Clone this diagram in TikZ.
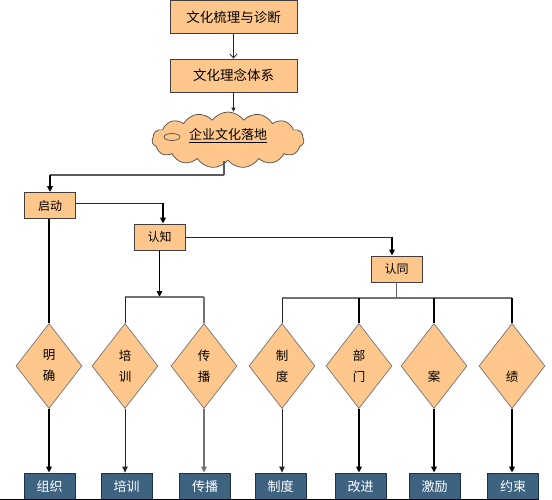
\documentclass[tikz,border=0pt]{standalone}
\usepackage{fontspec}
\newfontfamily\cjk{Noto Sans CJK SC}
\usetikzlibrary{shapes.geometric,shapes.symbols,arrows.meta,calc}
\definecolor{peach}{HTML}{FFC78C}
\definecolor{navy}{HTML}{3E6381}
\definecolor{navyedge}{HTML}{1E3246}
\begin{document}
\begin{tikzpicture}[x=1pt,y=-1pt,
  font=\cjk\fontsize{12}{14}\selectfont,
  pbox/.style={draw=black!75, fill=peach, line width=0.8pt, inner sep=0pt, minimum width=51pt, minimum height=26pt},
  topbox/.style={pbox, minimum width=127pt, minimum height=33pt, font=\cjk\fontsize{13.5}{16}\selectfont},
  dia/.style={diamond, draw=black!55, fill=peach, line width=0.7pt, inner sep=0pt, minimum width=66pt, minimum height=85pt, align=center, font=\cjk\fontsize{12.5}{21}\selectfont},
  nbox/.style={draw=navyedge, fill=navy, text=white, line width=0.8pt, inner sep=0pt, minimum width=51pt, minimum height=27pt, font=\cjk\fontsize{13}{15}\selectfont},
  tip/.style={-{Triangle[length=6pt,width=5.5pt]}},
  thk/.style={line width=1.8pt, draw=black},
  thn/.style={line width=0.8pt, draw=black!85},
  gry/.style={line width=1.4pt, draw=black!55},
]
\useasboundingbox (0,0) rectangle (552,500);

% top
\node[topbox] (b1) at (233.5,17) {文化梳理与诊断};
\node[topbox] (b2) at (233.5,75.5) {文化理念体系};
\node[cloud, cloud ignores aspect, cloud puffs=15, cloud puff arc=110, draw=black!70, fill=peach, line width=0.7pt, minimum width=152pt, minimum height=56pt, inner sep=0pt] (cl) at (228,140) {};
\node[inner sep=0pt, font=\cjk\fontsize{13}{15}\selectfont] (clt) at (228,136) {\underline{企业文化落地}};
\draw[black!70, line width=0.7pt] (172,137) ellipse (8pt and 3.5pt);

\draw[thn, -{Straight Barb[length=4pt,width=7pt]}] (b1.south) -- (b2.north);
\draw[thn, -{Triangle[length=4pt,width=4pt]}] (b2.south) -- (b2.south |- cl.north);

% level nodes
\node[pbox] (qd) at (50,205.5) {启动};
\node[pbox] (rz) at (159.5,237) {认知};
\node[pbox] (rt) at (396.5,269) {认同};

\coordinate (clo) at ($(cl.south)+(-4,0)$);
\draw[line width=1.2pt, draw=black!65] (clo) -- (clo |- 0,175) coordinate (cq);
\draw[line width=1.2pt, draw=black!65] (cq) -- (qd.north |- cq);
\draw[thk, tip] (qd.north |- cq) -- (qd.north);

\coordinate (q1) at (163,203);
\draw[thn] (qd.east |- q1) -- (q1);
\draw[thk, tip] (q1) -- (q1 |- rz.north);
\coordinate (r1) at (392,237);
\draw[thn] (rz.east) -- (r1);
\draw[thk, tip] (r1) -- (r1 |- rt.north);

% diamonds
\foreach \n/\x/\t in {d1/49/明\\确, d2/125/培\\训, d3/204/传\\播, d4/282/制\\度, d5/359/部\\门, d6/434/\phantom{案}\\案, d7/512/\phantom{绩}\\绩}{
  \node[dia] (\n) at (\x,366) {\t};
}

% bottom boxes
\node[nbox] (e1) at (49.5,486.5) {组织};
\node[nbox] (e2) at (126.5,486.5) {培训};
\node[nbox] (e3) at (205,486.5) {传播};
\node[nbox] (e4) at (280.5,486.5) {制度};
\node[nbox] (e5) at (360.5,486.5) {改进};
\node[nbox] (e6) at (434.5,486.5) {激励};
\node[nbox] (e7) at (513,486.5) {约束};

% bars
\coordinate (lb) at (0,297);
\draw[thk, tip] (rz.south) -- (rz.south |- lb);
\draw[gry] (d2.north |- lb) -- (d3.north |- lb);
\draw[thn] (d2.north |- lb) -- (d2.north);
\draw[gry] (d3.north |- lb) -- (d3.north);
\draw[thk] (qd.south -| d1.north) -- (d1.north);

\coordinate (rb) at (0,298);
\draw[line width=0.8pt, draw=black!60] (rt.south) -- (rt.south |- rb);
\draw[gry] (d4.north |- rb) -- (d7.north |- rb);
\draw[thn] (d4.north |- rb) -- (d4.north);
\draw[thk] (d5.north |- rb) -- (d5.north);
\draw[thk] (d6.north |- rb) -- (d6.north);
\draw[thk] (d7.north |- rb) -- (d7.north);

% diamond to bottom
\draw[thk, tip] (d1.south) -- (d1.south |- e1.north);
\draw[thn, tip] (d2.south) -- (d2.south |- e2.north);
\draw[gry, tip] (d3.south) -- (d3.south |- e3.north);
\draw[thn, tip] (d4.south) -- (d4.south |- e4.north);
\draw[thk, tip] (d5.south) -- (d5.south |- e5.north);
\draw[thk, tip] (d6.south) -- (d6.south |- e6.north);
\draw[thk, tip] (d7.south) -- (d7.south |- e7.north);

% base line
\coordinate (bl) at (0,499);
\draw[line width=1pt] (bl) -- (e7.east |- bl);
\end{tikzpicture}
\end{document}
